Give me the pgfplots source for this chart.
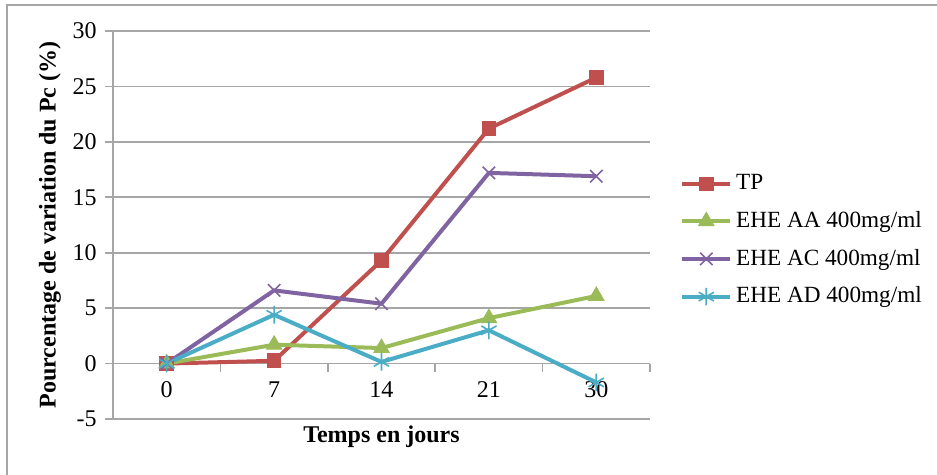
\documentclass[border=0pt]{standalone}
\usepackage{fontspec}
\setmainfont{Liberation Serif}
\usepackage{pgfplots}
\pgfplotsset{compat=1.18}
\definecolor{tpred}{HTML}{C0504D}
\definecolor{aagreen}{HTML}{9BBB59}
\definecolor{acpurple}{HTML}{8064A2}
\definecolor{adcyan}{HTML}{4BACC6}
\definecolor{gridgray}{HTML}{A6A6A6}

\begin{document}
\fontsize{12}{14}\selectfont
\begin{tikzpicture}
  % 1 px of the reference = 0.5pt
  \useasboundingbox (0,0) rectangle (468.5pt,237.5pt);
  \draw[gridgray, line width=0.8pt] (3.5pt,0pt) -- (3.5pt,235pt) -- (468.5pt,235pt);
  \begin{axis}[
    at={(56.5pt,28pt)}, anchor=south west,
    scale only axis,
    width=268.5pt, height=194pt,
    xmin=-0.5, xmax=4.5,
    ymin=-5, ymax=30,
    axis y line*=left,
    axis x line*=middle,
    axis line style={gridgray, line width=0.8pt},
    xtick={0,1,2,3,4},
    xticklabels={0,7,14,21,30},
    major x tick style={draw=none},
    minor xtick={0.5,1.5,2.5,3.5,4.5},
    minor x tick style={gridgray, line width=0.8pt},
    ytick={-5,0,5,10,15,20,25,30},
    ytick style={gridgray, line width=0.8pt},
    tick align=outside,
    major tick length=4pt,
    minor tick length=4pt,
    ymajorgrids,
    grid style={gridgray, line width=0.8pt},
    /pgf/number format/assume math mode=true,
    tick label style={font=\fontsize{12}{14}\selectfont},
    xticklabel style={yshift=-1pt},
    xlabel={\textbf{Temps en jours}},
    ylabel={\textbf{Pourcentage de variation du Pc (\%)}},
    every axis x label/.style={at={(axis description cs:0.5,0)}, anchor=center, yshift=-9pt,
      font=\fontsize{12}{14}\selectfont},
    every axis y label/.style={at={(axis description cs:0,0.5)}, rotate=90, anchor=center, yshift=31.5pt,
      font=\fontsize{12}{14}\selectfont},
    legend style={at={(1,0.46)}, anchor=west, xshift=12pt, draw=none, fill=none,
      row sep=5pt, font=\fontsize{11.6}{13.5}\selectfont, cells={anchor=west}},
    legend image code/.code={
      \draw[mark repeat=2, mark phase=2] plot coordinates {(0cm,0cm) (0.42cm,0cm) (0.84cm,0cm)};
    },
    every axis plot/.append style={line width=2pt},
  ]
    \addplot[tpred, mark=square*, mark size=3.4pt, mark options={line width=0.5pt}]
      coordinates {(0,0) (1,0.25) (2,9.3) (3,21.2) (4,25.8)};
    \addlegendentry{TP}
    \addplot[aagreen, mark=triangle*, mark size=4.4pt, mark options={line width=0.5pt}]
      coordinates {(0,0) (1,1.7) (2,1.4) (3,4.1) (4,6.1)};
    \addlegendentry{EHE AA 400mg/ml}
    \addplot[acpurple, mark=x, mark size=4.4pt, mark options={line width=0.8pt}]
      coordinates {(0,0) (1,6.6) (2,5.4) (3,17.2) (4,16.9)};
    \addlegendentry{EHE AC 400mg/ml}
    \addplot[adcyan, mark=asterisk, mark size=4.4pt, mark options={line width=0.8pt}]
      coordinates {(0,0) (1,4.4) (2,0.15) (3,3.0) (4,-1.7)};
    \addlegendentry{EHE AD 400mg/ml}
  \end{axis}
\end{tikzpicture}
\end{document}
